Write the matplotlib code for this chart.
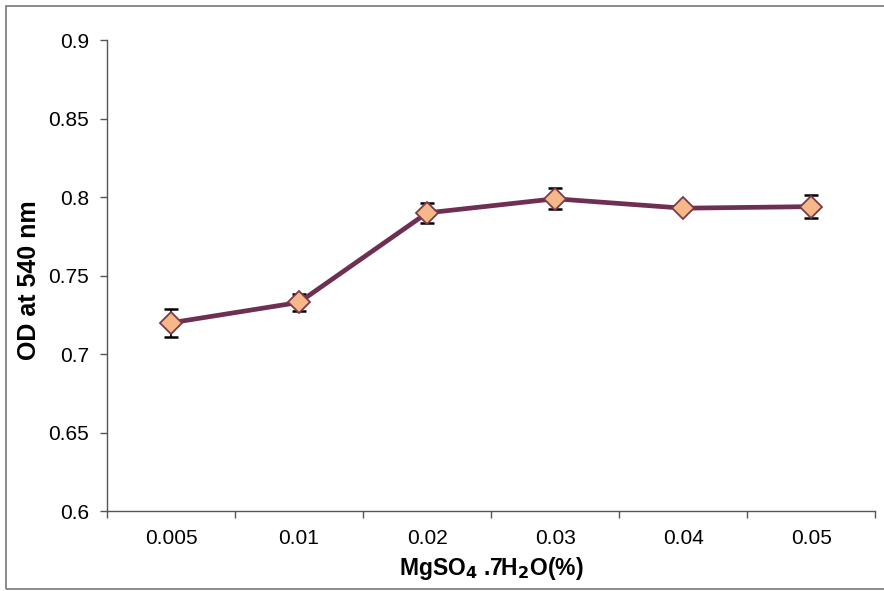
import matplotlib
matplotlib.use("Agg")
import matplotlib.pyplot as plt
from matplotlib.patches import Rectangle
import numpy as np

plt.rcParams['font.family'] = ['Liberation Sans', 'DejaVu Sans']

concentrations = ["0.005", "0.01", "0.02", "0.03", "0.04", "0.05"]
od_values = [0.720, 0.733, 0.790, 0.799, 0.793, 0.794]
od_errors = [0.009, 0.0055, 0.0065, 0.0067, 0.001, 0.0075]
y_ticks = [0.6, 0.65, 0.7, 0.75, 0.8, 0.85, 0.9]

fig = plt.figure(figsize=(8.84, 5.91), dpi=100)
ax = fig.add_axes([0.121, 0.135, 0.869, 0.797])

x = np.arange(len(concentrations))
ax.errorbar(x, od_values, yerr=od_errors, fmt='none', ecolor='black',
            elinewidth=1.3, capsize=5, capthick=1.8, zorder=2)
ax.plot(x, od_values, color='#6e2f52', linewidth=3.4, zorder=3)
ax.plot(x, od_values, linestyle='none', marker='D', markersize=11,
        markerfacecolor='#f6b888', markeredgecolor='#7a3a4a',
        markeredgewidth=1.3, zorder=4)

ax.set_xlim(-0.5, len(concentrations) - 0.5)
ax.set_ylim(0.6, 0.9)
ax.set_yticks(y_ticks)
ax.set_yticklabels([f"{v:g}" for v in y_ticks])

ax.set_xticks(np.arange(-0.5, len(concentrations)), minor=False)
ax.set_xticklabels([])
ax.set_xticks(x, minor=True)
ax.set_xticklabels(concentrations, minor=True)
ax.tick_params(axis='x', which='major', direction='out', length=5,
               color='#555555', width=1)
ax.tick_params(axis='x', which='minor', length=0, pad=13, labelsize=15)
ax.tick_params(axis='y', direction='out', length=5, color='#555555',
               width=1, labelsize=15, pad=8)

for side in ('top', 'right'):
    ax.spines[side].set_visible(False)
for side in ('left', 'bottom'):
    ax.spines[side].set_color('#555555')
    ax.spines[side].set_linewidth(1)

ax.set_ylabel("OD at 540 nm", fontsize=18, fontweight='bold')
ax.yaxis.set_label_coords(-0.086, 0.49)
ax.set_xlabel(r"MgSO$_\mathbf{4}$ .7H$_\mathbf{2}$O(%)", fontsize=16.5,
              fontweight='bold', labelpad=5)

fig.patches.append(Rectangle((6 / 884, 1 - 589 / 591), 890 / 884, 583 / 591,
                             transform=fig.transFigure, fill=False,
                             edgecolor='#777777', linewidth=1.2))

fig.savefig("out.png", dpi=100)
